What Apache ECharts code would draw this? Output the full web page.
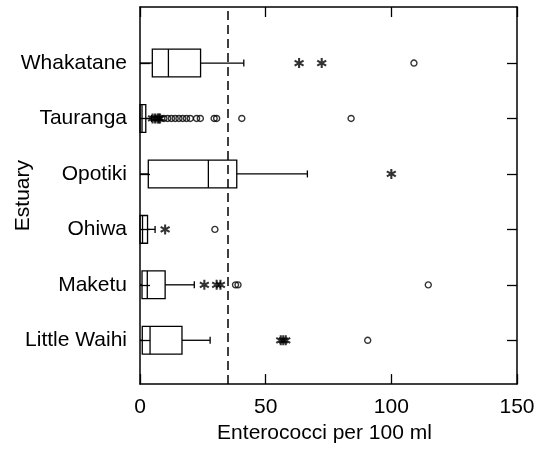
<!DOCTYPE html>
<html>
<head>
<meta charset="utf-8">
<script src="https://cdn.jsdelivr.net/npm/echarts@6/dist/echarts.min.js"></script>
<style>
html,body{margin:0;padding:0;background:#fff;}
#chart{width:550px;height:449px;}
</style>
</head>
<body>
<div id="chart"></div>
<script>
// estuaries, top to bottom
var categories = ['Whakatane', 'Tauranga', 'Opotiki', 'Ohiwa', 'Maketu', 'Little Waihi'];
// box plot summary per estuary
var lowWhisker = [0, 0, 0, 0, 0, 0];
var q1 = [4.9, 0, 3.3, 0, 0.8, 0.9];
var median = [11.3, 0.8, 27.2, 1, 2.9, 4];
var q3 = [24.1, 2.3, 38.5, 3, 10, 16.7];
var highWhisker = [41.3, 4.6, 66.6, 6, 21.6, 27.9];
// outliers (circles) and extremes (stars)
var circleValues = [
    [109],
    [9.5, 11, 12.5, 14, 15.5, 17, 18.5, 20, 22.5, 24, 29.5, 30.5, 40.5, 84],
    [],
    [29.8],
    [38, 39, 114.7],
    [90.6]
];
var starValues = [
    [63.3, 72.3],
    [5, 6, 7, 7.5, 8],
    [100],
    [10],
    [25.6, 30.5, 32],
    [56, 57, 58]
];
var xTicks = [0, 50, 100, 150];
var guideValue = 35;

var font = 'Liberation Sans';
var ink = '#000';

var boxData = categories.map(function (c, i) {
    return [i, lowWhisker[i], q1[i], median[i], q3[i], highWhisker[i]];
});
function pts(list) {
    var out = [];
    list.forEach(function (vals, i) {
        vals.forEach(function (v) { out.push([v, i]); });
    });
    return out;
}

// asterisk made of three thin bars
var starPath = 'path://M-1,-5L1,-5L1,5L-1,5Z' +
    'M4.83,1.634L3.83,3.366L-4.83,-1.634L-3.83,-3.366Z' +
    'M3.83,-3.366L4.83,-1.634L-3.83,3.366L-4.83,1.634Z';

function renderBox(params, api) {
    var c = api.value(0);
    var lo = api.coord([api.value(1), c]);
    var b1 = api.coord([api.value(2), c]);
    var md = api.coord([api.value(3), c]);
    var b3 = api.coord([api.value(4), c]);
    var hi = api.coord([api.value(5), c]);
    var h = api.size([0, 1])[1] * 0.5;
    var y = md[1];
    var st = {stroke: ink, lineWidth: 1.3, fill: null};
    return {
        type: 'group',
        children: [
            {type: 'line', shape: {x1: lo[0], y1: y, x2: b1[0], y2: y}, style: st},
            {type: 'rect', shape: {x: b1[0], y: y - h / 2, width: b3[0] - b1[0], height: h}, style: st},
            {type: 'line', shape: {x1: md[0], y1: y - h / 2, x2: md[0], y2: y + h / 2}, style: st},
            {type: 'line', shape: {x1: b3[0], y1: y, x2: hi[0], y2: y}, style: st},
            {type: 'line', shape: {x1: hi[0], y1: y - 3.5, x2: hi[0], y2: y + 3.5}, style: st}
        ]
    };
}

var frameLine = {show: true, onZero: false, lineStyle: {color: ink, width: 1.5}};

var option = {
    animation: false,
    backgroundColor: '#fff',
    textStyle: {fontFamily: font, color: ink},
    grid: [
        {left: 140, top: 7, width: 377, height: 380},
        {left: 140, top: 35.3, width: 377, height: 332.7}
    ],
    xAxis: [
        {
            gridIndex: 0, type: 'value', position: 'bottom',
            min: xTicks[0], max: xTicks[xTicks.length - 1], interval: 50,
            axisLine: frameLine,
            axisTick: {inside: true, length: 10, lineStyle: {color: ink, width: 1.3}},
            axisLabel: {fontSize: 21, color: ink, fontFamily: font, margin: 13},
            splitLine: {show: false},
            name: 'Enterococci per 100 ml', nameLocation: 'middle', nameGap: 33,
            nameTextStyle: {fontSize: 21, color: ink, fontFamily: font, padding: [0, 8, 0, 0]}
        },
        {
            gridIndex: 0, type: 'value', position: 'top',
            min: 0, max: 150, interval: 50,
            axisLine: frameLine,
            axisTick: {inside: true, length: 10, lineStyle: {color: ink, width: 1.3}},
            axisLabel: {show: false},
            splitLine: {show: false}
        },
        {
            gridIndex: 1, type: 'value', min: 0, max: 150, show: false
        }
    ],
    yAxis: [
        {
            gridIndex: 0, type: 'value', position: 'left', min: 0, max: 1,
            axisLine: frameLine, axisTick: {show: false}, axisLabel: {show: false},
            splitLine: {show: false},
            name: 'Estuary', nameLocation: 'middle', nameGap: 106, nameRotate: 90,
            nameTextStyle: {fontSize: 21, color: ink, fontFamily: font}
        },
        {
            gridIndex: 0, type: 'value', position: 'right', min: 0, max: 1,
            axisLine: frameLine, axisTick: {show: false}, axisLabel: {show: false},
            splitLine: {show: false}
        },
        {
            gridIndex: 1, type: 'category', position: 'left', inverse: true,
            data: categories,
            axisLine: {show: false},
            axisTick: {show: true, inside: true, length: 10, alignWithLabel: true, lineStyle: {color: ink, width: 1.3}},
            axisLabel: {fontSize: 21, color: ink, fontFamily: font, margin: 13},
            splitLine: {show: false}
        },
        {
            gridIndex: 1, type: 'category', position: 'right', inverse: true,
            data: categories,
            axisLine: {show: false},
            axisTick: {show: true, inside: true, length: 10, alignWithLabel: true, lineStyle: {color: ink, width: 1.3}},
            axisLabel: {show: false},
            splitLine: {show: false}
        }
    ],
    series: [
        {
            type: 'scatter', xAxisIndex: 0, yAxisIndex: 0, data: [],
            markLine: {
                silent: true, symbol: 'none', label: {show: false},
                lineStyle: {color: ink, width: 1.5, type: [9, 5]},
                data: [{xAxis: guideValue}]
            }
        },
        {
            type: 'custom', xAxisIndex: 2, yAxisIndex: 2,
            renderItem: renderBox,
            encode: {x: [1, 2, 3, 4, 5], y: 0},
            data: boxData
        },
        {
            type: 'scatter', xAxisIndex: 2, yAxisIndex: 2,
            symbol: 'circle', symbolSize: 6,
            itemStyle: {color: 'rgba(0,0,0,0)', borderColor: ink, borderWidth: 1.4},
            data: pts(circleValues)
        },
        {
            type: 'scatter', xAxisIndex: 2, yAxisIndex: 2,
            symbol: starPath, symbolSize: 10,
            itemStyle: {color: ink},
            data: pts(starValues)
        }
    ]
};

var chart = echarts.init(document.getElementById('chart'));
chart.setOption(option);
</script>
</body>
</html>
